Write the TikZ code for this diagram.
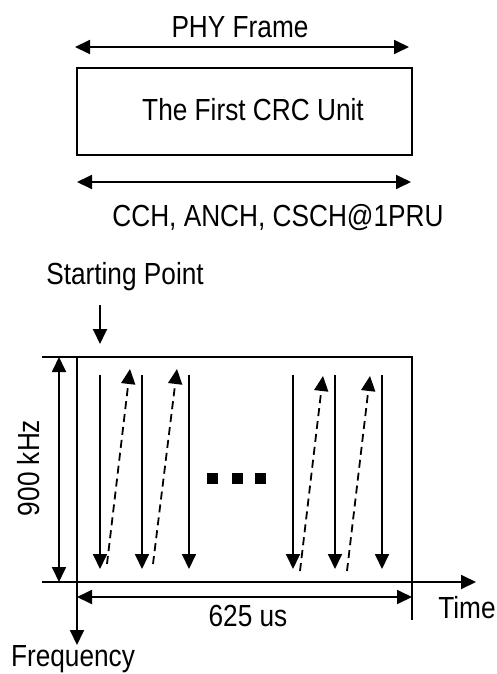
\documentclass[tikz,border=0pt]{standalone}
\usepackage{fontspec}
\setmainfont[FakeStretch=0.86]{Liberation Sans}
\usetikzlibrary{arrows.meta}
\tikzset{
  lbl/.style={inner sep=0pt, font=\fontsize{30.5}{34}\selectfont},
  ln/.style={line width=1.8pt},
  arr/.style={ln, -{Triangle[length=15pt,width=14pt]}},
  darr/.style={ln, {Triangle[length=15pt,width=14pt]}-{Triangle[length=15pt,width=14pt]}},
  dsh/.style={arr, dash pattern=on 8pt off 5pt},
}
\begin{document}
\begin{tikzpicture}[x=1pt,y=-1pt]
\useasboundingbox (0,0) rectangle (497,674);
% top part
\node[lbl] (phy) at (240,27) {PHY Frame};
\coordinate (pa) at (75,47); \coordinate (pb) at (409,47);
\draw[darr] (pa) -- (pb);
\node[draw, ln, minimum width=335pt, minimum height=87pt, inner sep=0pt] (box) at (244.5,111.5) {};
\node[lbl] (crc) at (253,110) {The First CRC Unit};
\coordinate (ca) at (77,182); \coordinate (cb) at (411,182);
\draw[darr] (ca) -- (cb);
\node[lbl] (cch) at (278,218) {CCH, ANCH, CSCH@1PRU};
% bottom part
\node[lbl] (sp) at (125,277) {Starting Point};
\coordinate (s1) at (100,305); \coordinate (s2) at (100,344);
\draw[arr] (s1) -- (s2);
\coordinate (tl) at (42,357); \coordinate (tr) at (412,357);
\coordinate (br) at (412,620);
\draw[ln] (tl) -- (tr) -- (br);
\coordinate (f1) at (77,357); \coordinate (f2) at (77,645);
\draw[arr] (f1) -- (f2);
\coordinate (t1) at (42,582); \coordinate (t2) at (476,582);
\draw[arr] (t1) -- (t2);
\coordinate (k1) at (59,357); \coordinate (k2) at (59,582);
\draw[darr] (k1) -- (k2);
\node[lbl, rotate=90] (khz) at (29,468) {900 kHz};
\coordinate (u1) at (77,597); \coordinate (u2) at (412,597);
\draw[darr] (u1) -- (u2);
\node[lbl] (us) at (248,616) {625 us};
\node[lbl] (time) at (467,608) {Time};
\node[lbl] (freq) at (73,659) {Frequency};
% solid down arrows
\foreach \x [count=\i] in {100,142,189,293,335,382}{
  \coordinate (d\i a) at (\x,375); \coordinate (d\i b) at (\x,569);
  \draw[arr] (d\i a) -- (d\i b);
}
% dashed up arrows
\coordinate (e1a) at (107,564); \coordinate (e1b) at (130,369);
\coordinate (e2a) at (153,564); \coordinate (e2b) at (177,369);
\coordinate (e3a) at (300,571); \coordinate (e3b) at (323,376);
\coordinate (e4a) at (347,571); \coordinate (e4b) at (370,376);
\foreach \i in {1,2,3,4}{\draw[dsh] (e\i a) -- (e\i b);}
% dots
\foreach \x [count=\i] in {212,237,260}{
  \node[fill, minimum size=11pt, inner sep=0pt] (dot\i) at (\x,478) {};
}
\end{tikzpicture}
\end{document}
